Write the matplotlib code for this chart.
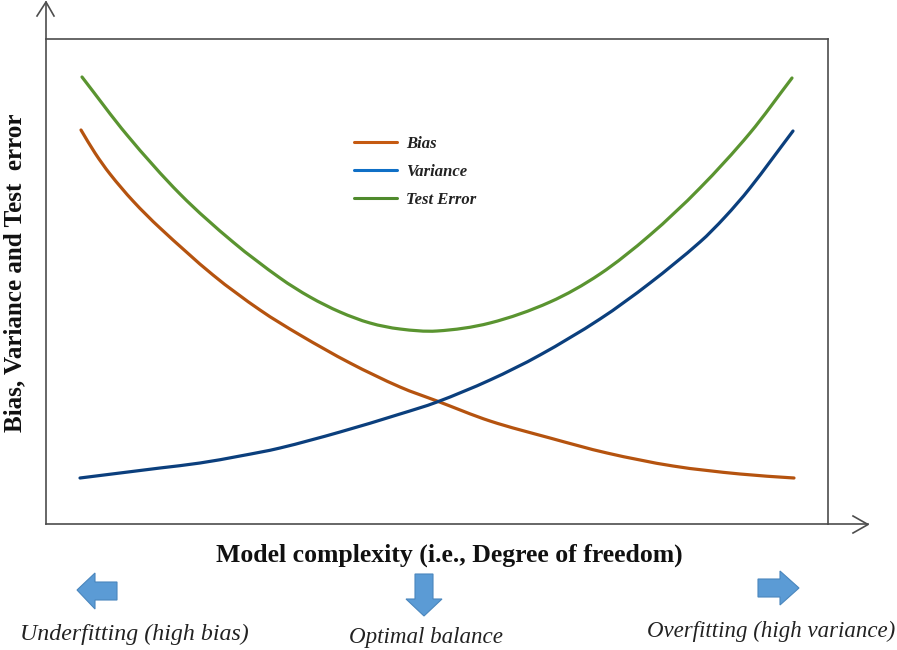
import matplotlib
matplotlib.use("Agg")
import matplotlib.pyplot as plt
from matplotlib.patches import Polygon, PathPatch
from matplotlib.path import Path

W, H = 897, 650
plt.rcParams['font.family'] = ['Liberation Serif', 'DejaVu Serif']

bias_x = [81, 95, 110, 133, 160, 213, 260, 300, 350, 400, 437, 490, 550, 607, 673, 740, 794]
bias_y = [130, 153, 174, 201, 228, 275, 310, 335, 363, 387, 401, 421, 438, 453, 466, 474, 478]
var_x = [80, 120, 160, 200, 240, 280, 340, 400, 437, 490, 540, 600, 650, 700, 725, 750, 793]
var_y = [478, 473, 468, 463, 456, 448, 432, 414, 402, 380, 355, 319, 283, 242, 217, 188, 131]
err_x = [82, 127, 180, 233, 280, 310, 340, 370, 400, 437, 490, 550, 600, 650, 700, 750, 792]
err_y = [77, 135, 194, 242, 278, 297, 312, 323, 329, 331, 323, 302, 274, 235, 188, 133, 78]

legend_labels = ["Bias", "Variance", "Test Error"]
legend_colors = ["#c55a11", "#0f6fc6", "#4f8a2c"]
legend_y = [142, 170, 198]


def smooth_path(xs, ys):
    """Smooth Bezier path that passes through every read point."""
    n = len(xs)
    slopes = []
    for i in range(n):
        a = max(i - 1, 0)
        b = min(i + 1, n - 1)
        slopes.append((ys[b] - ys[a]) / (xs[b] - xs[a]))
    verts = [(xs[0], ys[0])]
    codes = [Path.MOVETO]
    for i in range(n - 1):
        dx = xs[i + 1] - xs[i]
        verts.append((xs[i] + dx / 3, ys[i] + slopes[i] * dx / 3))
        verts.append((xs[i + 1] - dx / 3, ys[i + 1] - slopes[i + 1] * dx / 3))
        verts.append((xs[i + 1], ys[i + 1]))
        codes += [Path.CURVE4] * 3
    return Path(verts, codes)


fig = plt.figure(figsize=(W / 100, H / 100), dpi=100)
ax = fig.add_axes([46 / W, 1 - 524 / H, (828 - 46) / W, (524 - 39) / H])
ax.set_xlim(46, 828)
ax.set_ylim(524, 39)
ax.set_xticks([])
ax.set_yticks([])
for s in ax.spines.values():
    s.set_color("#4d4d4d")
    s.set_linewidth(1.2)

for xs, ys, c, lab in ((bias_x, bias_y, "#b5530f", "Bias curve"),
                       (err_x, err_y, "#5a9430", "Test error curve"),
                       (var_x, var_y, "#0b3f7d", "Variance curve")):
    ax.add_patch(PathPatch(smooth_path(xs, ys), facecolor="none", edgecolor=c,
                           lw=2.3, capstyle="round", label=lab))

for lab, c, y in zip(legend_labels, legend_colors, legend_y):
    ax.plot([354, 397], [y, y], color=c, lw=2.2, solid_capstyle="round")
    ax.text(406, y + 2, lab, fontsize=12, style="italic", fontweight="bold",
            va="center", ha="left", color="#222222")

# overlay in pixel coordinates
ov = fig.add_axes([0, 0, 1, 1], facecolor="none")
ov.set_xlim(0, W)
ov.set_ylim(H, 0)
ov.axis("off")

ov.plot([46, 46], [39, 2], color="#4d4d4d", lw=1.2)
ov.plot([37, 46, 54], [16, 2, 16], color="#4d4d4d", lw=1.2)
ov.plot([828, 868], [524, 524], color="#4d4d4d", lw=1.2)
ov.plot([853, 868, 853], [516, 524.5, 533], color="#4d4d4d", lw=1.2)

ov.text(449, 555, "Model complexity (i.e., Degree of freedom)", fontsize=18.5, fontweight="bold",
        ha="center", va="center", color="#111111")
ov.text(15, 273, "Bias, Variance and Test  error", fontsize=18.1, fontweight="bold", rotation=90,
        ha="center", va="center", color="#111111")
ov.text(134, 634, "Underfitting (high bias)", fontsize=17.2, style="italic", ha="center", va="center", color="#222222")
ov.text(426, 638, "Optimal balance", fontsize=16.6, style="italic", ha="center", va="center", color="#222222")
ov.text(771, 631, "Overfitting (high variance)", fontsize=16.5, style="italic", ha="center", va="center", color="#222222")

blue = "#5b9bd5"
edge = "#4a86bd"
arrow_left = [(117, 582), (95, 582), (95, 573), (77, 590), (95, 609), (95, 600), (117, 600)]
arrow_down = [(415, 574), (433, 574), (433, 599), (442, 599), (424, 616), (406, 599), (415, 599)]
arrow_right = [(758, 579), (780, 579), (780, 571), (799, 588), (780, 605), (780, 597), (758, 597)]
for pts in (arrow_left, arrow_down, arrow_right):
    ov.add_patch(Polygon(pts, closed=True, facecolor=blue, edgecolor=edge, lw=0.8))

fig.savefig("out.png", dpi=100)
